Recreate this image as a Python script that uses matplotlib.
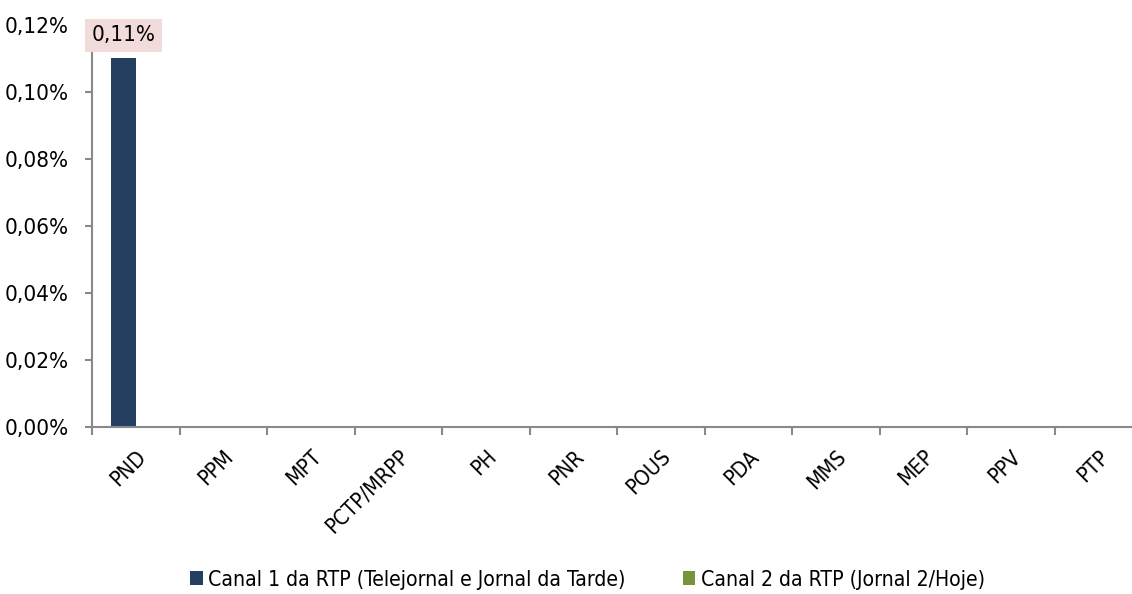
import numpy as np
import matplotlib
matplotlib.use("Agg")
import matplotlib.pyplot as plt
import matplotlib.transforms as mtransforms
from matplotlib.ticker import FuncFormatter

plt.rcParams['font.family'] = ['Liberation Sans Narrow', 'DejaVu Sans']
plt.rcParams['font.stretch'] = 'condensed'

categories = ["PND", "PPM", "MPT", "PCTP/MRPP", "PH", "PNR", "POUS", "PDA", "MMS", "MEP", "PPV", "PTP"]
rtp1 = [0.11, 0, 0, 0, 0, 0, 0, 0, 0, 0, 0, 0]
rtp2 = [0, 0, 0, 0, 0, 0, 0, 0, 0, 0, 0, 0]
series_names = ["Canal 1 da RTP (Telejornal e Jornal da Tarde)", "Canal 2 da RTP (Jornal 2/Hoje)"]
colors = ["#243f60", "#77933c"]

fig = plt.figure(figsize=(11.32, 5.94), dpi=100)
ax = fig.add_axes([0.0813, 0.2811, 0.9276, 0.677])

x = np.arange(len(categories))
w = 0.285
b1 = ax.bar(x - w / 2, rtp1, w, color=colors[0], label=series_names[0])
b2 = ax.bar(x + w / 2, rtp2, w, color=colors[1], label=series_names[1])

ax.set_xlim(-0.5, len(categories) - 0.5)
ax.set_ylim(0, 0.12)
ax.set_yticks(np.arange(0, 0.121, 0.02))
ax.yaxis.set_major_formatter(FuncFormatter(lambda v, p: f"{v:.2f}%".replace(".", ",")))

# ticks between categories, labels at centres
ax.set_xticks(np.arange(-0.5, len(categories), 1.0))
ax.set_xticklabels([])
ax.set_xticks(x, minor=True)
ax.set_xticklabels(categories, minor=True, rotation=45, ha="right", rotation_mode="anchor",
                   fontsize=15.5)
shift = mtransforms.ScaledTranslation(14 / 100, 0, fig.dpi_scale_trans)
for lab in ax.get_xticklabels(minor=True):
    lab.set_transform(lab.get_transform() + shift)
ax.tick_params(axis="x", which="minor", length=0, pad=14)
ax.tick_params(axis="x", which="major", length=6, color="#898989", width=1.5)
ax.tick_params(axis="y", length=5, color="#898989", width=1.5, labelsize=16, pad=12)

for s in ["top", "right"]:
    ax.spines[s].set_visible(False)
for s in ["left", "bottom"]:
    ax.spines[s].set_color("#898989")
    ax.spines[s].set_linewidth(1.5)

# data label
for xi, v in zip(x, rtp1):
    if v > 0:
        ax.text(xi - w / 2, v + 0.0069, f"{v:.2f}%".replace(".", ","), ha="center", va="center",
                fontsize=16, bbox=dict(boxstyle="square,pad=0.3", fc="#f2dcdb", ec="none"))

fig.legend(handles=[b1, b2], loc="lower center", bbox_to_anchor=(0.519, -0.025), ncol=2,
           frameon=False, fontsize=15.2, handlelength=0.6, handleheight=0.65, handletextpad=0.25,
           columnspacing=2.7)

fig.savefig("out.png", dpi=100)
